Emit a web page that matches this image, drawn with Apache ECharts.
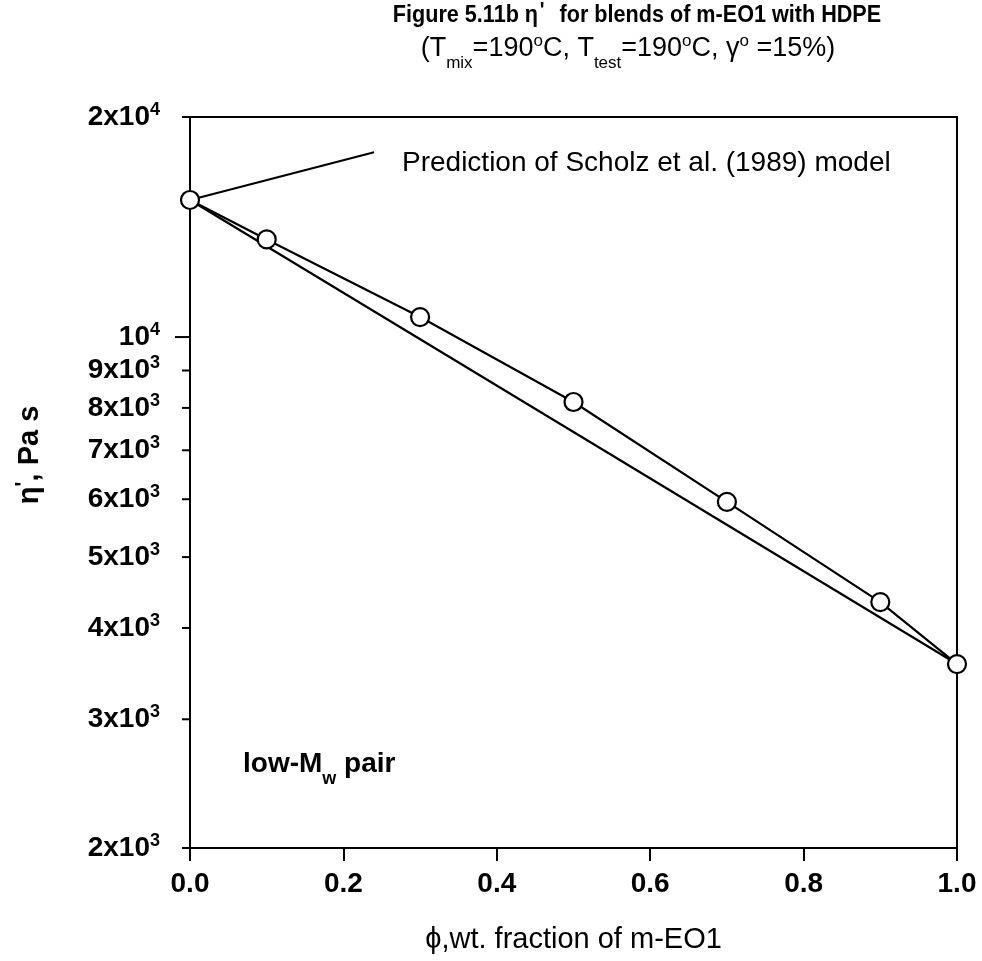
<!DOCTYPE html>
<html>
<head>
<meta charset="utf-8">
<script src="https://cdn.jsdelivr.net/npm/echarts@6/dist/echarts.min.js"></script>
<style>
  html, body { margin: 0; padding: 0; background: #fff; }
  #chart { width: 982px; height: 961px; }
</style>
</head>
<body>
<div id="chart"></div>
<script>
// Weight fraction of m-EO1 in the blend
const phi = [0, 0.1, 0.3, 0.5, 0.7, 0.9, 1.0];
// Measured dynamic viscosity eta' (Pa s)
const etaMeasured = [15400, 13600, 10650, 8150, 5950, 4340, 3570];
// Scholz et al. (1989) model prediction, end points
const predPhi = [0, 1.0];
const etaPredicted = [15400, 3570];
// Leader line from the model curve to its caption
const leaderPhi = [0, 0.24];
const leaderEta = [15400, 17900];
// Axis ticks
const xTicks = [0, 0.2, 0.4, 0.6, 0.8, 1.0];
const yTickValues = [2000, 3000, 4000, 5000, 6000, 7000, 8000, 9000, 10000, 20000];
const yTickMantissa = ['2', '3', '4', '5', '6', '7', '8', '9', '', '2'];
const yTickExponent = ['3', '3', '3', '3', '3', '3', '3', '3', '4', '4'];
const yMajorTicks = [10000];

const FONT = 'Liberation Sans, Arial, sans-serif';

const chart = echarts.init(document.getElementById('chart'), null, { renderer: 'canvas' });

const labelRich = {
  b: { fontSize: 28, fontFamily: FONT, fontWeight: 'bold', fill: '#000', lineHeight: 32 },
  s: { fontSize: 18, fontFamily: FONT, fontWeight: 'bold', fill: '#000', lineHeight: 18, verticalAlign: 'top' }
};

function yLabelText(i) {
  const m = yTickMantissa[i];
  return (m ? '{b|' + m + 'x10}' : '{b|10}') + '{s|' + yTickExponent[i] + '}';
}

const option = {
  backgroundColor: '#fff',
  animation: false,
  grid: {
    left: 190, right: 25, top: 117, bottom: 113,
    show: true, borderColor: '#000', borderWidth: 2, backgroundColor: 'transparent'
  },
  xAxis: {
    type: 'value', min: 0, max: 1, interval: 0.2,
    splitLine: { show: false },
    axisLine: { lineStyle: { color: '#000', width: 2 } },
    axisTick: { show: true, length: 13, inside: false, lineStyle: { color: '#000', width: 2 } },
    axisLabel: {
      margin: 22, color: '#000', fontSize: 28, fontFamily: FONT, fontWeight: 'bold',
      formatter: v => (xTicks.some(t => Math.abs(t - v) < 1e-9) ? v.toFixed(1) : '')
    },
    name: 'ϕ,wt. fraction of m-EO1',
    nameLocation: 'middle', nameGap: 77,
    nameTextStyle: { color: '#000', fontSize: 29, fontFamily: FONT }
  },
  yAxis: {
    type: 'log', logBase: 10, min: 2000, max: 20000,
    splitLine: { show: false },
    axisLine: { lineStyle: { color: '#000', width: 2 } },
    axisTick: { show: false },
    axisLabel: { show: false },
    minorTick: { show: false }
  },
  graphic: [
    {
      type: 'text', x: 637, y: 15, scaleX: 0.9,
      style: {
        text: '{t|Figure 5.11b η}{p|\'}{t| for blends of m-EO1 with HDPE}',
        align: 'center', verticalAlign: 'middle',
        rich: {
          t: { fontSize: 24, fontFamily: FONT, fontWeight: 'bold', fill: '#000', lineHeight: 30 },
          p: { fontSize: 22, fontFamily: FONT, fontWeight: 'bold', fill: '#000', lineHeight: 22, verticalAlign: 'top', padding: [0, 10, 0, 2] }
        }
      }
    },
    {
      type: 'text', x: 628, y: 49,
      style: {
        text: '{t|(T}{d|mix}{t|=190}{u|o}{t|C, T}{d|test}{t|=190}{u|o}{t|C, γ}{u|o}{t| =15%)}',
        align: 'center', verticalAlign: 'middle',
        rich: {
          t: { fontSize: 27, fontFamily: FONT, fill: '#000', lineHeight: 32 },
          d: { fontSize: 17, fontFamily: FONT, fill: '#000', lineHeight: 17, verticalAlign: 'bottom', padding: [0, 0, -7, 0] },
          u: { fontSize: 17, fontFamily: FONT, fill: '#000', lineHeight: 17, verticalAlign: 'top' }
        }
      }
    },
    {
      type: 'text', x: 402, y: 163,
      style: {
        text: 'Prediction of Scholz et al. (1989) model',
        verticalAlign: 'middle',
        fontSize: 28, fontFamily: FONT, fill: '#000'
      }
    },
    {
      type: 'text', x: 243, y: 764,
      style: {
        text: '{t|low-M}{d|w}{t| pair}',
        verticalAlign: 'middle',
        rich: {
          t: { fontSize: 28, fontFamily: FONT, fontWeight: 'bold', fill: '#000', lineHeight: 32 },
          d: { fontSize: 18, fontFamily: FONT, fontWeight: 'bold', fill: '#000', lineHeight: 18, verticalAlign: 'bottom', padding: [0, 0, -8, 0] }
        }
      }
    },
    {
      type: 'text', x: 30, y: 455, rotation: Math.PI / 2,
      style: {
        text: '{t|η}{p|\'}{t|, Pa s}',
        align: 'center', verticalAlign: 'middle',
        rich: {
          t: { fontSize: 29, fontFamily: FONT, fontWeight: 'bold', fill: '#000', lineHeight: 34 },
          p: { fontSize: 22, fontFamily: FONT, fontWeight: 'bold', fill: '#000', lineHeight: 22, verticalAlign: 'top' }
        }
      }
    }
  ],
  series: [
    {
      // log-scale y tick marks and labels
      type: 'custom',
      silent: true,
      clip: false,
      z: 5,
      data: yTickValues.map((v, i) => [0, v, i]),
      renderItem: (params, api) => {
        const i = params.dataIndex;
        const p = api.coord([0, api.value(1)]);
        const len = yMajorTicks.includes(yTickValues[i]) ? 15 : 8;
        return {
          type: 'group',
          children: [
            { type: 'line', shape: { x1: p[0] - len, y1: p[1], x2: p[0], y2: p[1] },
              style: { stroke: '#000', lineWidth: 2 } },
            { type: 'text', x: p[0] - 30, y: p[1],
              style: { text: yLabelText(i), rich: labelRich, align: 'right', verticalAlign: 'middle' } }
          ]
        };
      }
    },
    {
      name: 'model',
      type: 'line',
      data: predPhi.map((x, i) => [x, etaPredicted[i]]),
      showSymbol: false, symbol: 'none',
      lineStyle: { color: '#000', width: 2.2 },
      z: 2
    },
    {
      name: 'leader',
      type: 'line',
      data: leaderPhi.map((x, i) => [x, leaderEta[i]]),
      symbol: 'none',
      lineStyle: { color: '#000', width: 2.2 },
      z: 2
    },
    {
      name: 'measured',
      type: 'line',
      data: phi.map((x, i) => [x, etaMeasured[i]]),
      symbol: 'circle', symbolSize: 18,
      itemStyle: { color: '#fff', borderColor: '#000', borderWidth: 2.2 },
      lineStyle: { color: '#000', width: 2.2 },
      z: 3
    }
  ]
};

chart.setOption(option);
</script>
</body>
</html>
